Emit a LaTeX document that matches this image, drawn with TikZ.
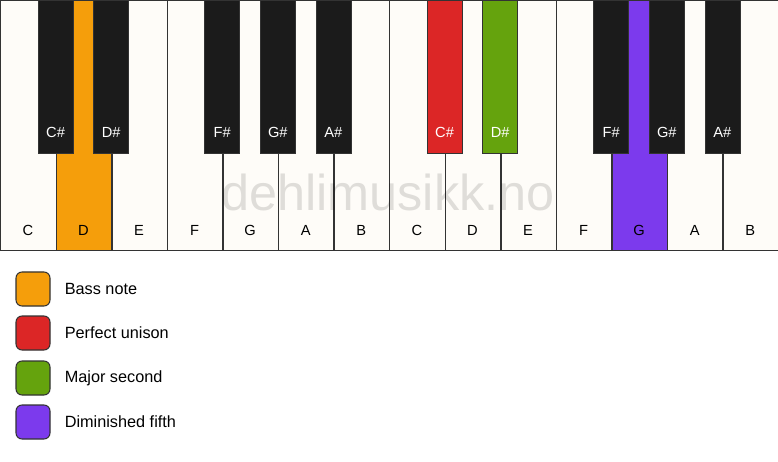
\documentclass[tikz,border=0pt]{standalone}
\usepackage{fontspec}
\setmainfont{Liberation Sans}
\usepackage{tikz}
\usetikzlibrary{positioning}

\definecolor{ivory}{HTML}{FEFCF8}
\definecolor{keyblack}{HTML}{1B1B1B}
\definecolor{edge}{HTML}{333333}
\definecolor{bass}{HTML}{F59E0B}
\definecolor{unison}{HTML}{DC2626}
\definecolor{second}{HTML}{65A30D}
\definecolor{fifth}{HTML}{7C3AED}

\tikzset{
    whitekey/.style={draw=edge, line width=1.1pt, fill=ivory, minimum width=41.68pt,
        minimum height=187.5pt, anchor=north west, inner sep=0pt},
    blackkey/.style={draw=edge, line width=0.6pt, fill=keyblack, minimum width=26.25pt,
        minimum height=114.75pt, anchor=north, inner sep=0pt},
    keylabel/.style={font=\fontsize{11}{13}\selectfont, inner sep=0pt},
    swatch/.style={draw=edge, line width=0.8pt, rounded corners=4.5pt,
        minimum size=25.5pt, inner sep=0pt},
    legendtext/.style={font=\fontsize{12.2}{14}\selectfont, anchor=west, inner sep=0pt}
}

\begin{document}
\begin{tikzpicture}[x=0.75pt,y=0.75pt]
    \useasboundingbox[fill=white] (0,0) rectangle (778,461);
    % white keys
    \foreach \n/\c [count=\i from 0] in {C/ivory,D/bass,E/ivory,F/ivory,G/ivory,A/ivory,B/ivory,
        C/ivory,D/ivory,E/ivory,F/ivory,G/fifth,A/ivory,B/ivory} {
        \node[whitekey, fill=\c] (w\i) at (\i*55.57,461) {};
        \node[keylabel] (wl\i) at (\i*55.57+27.8,231) {\n};
    }
    % watermark
    \node[font=\fontsize{37.8}{44}\selectfont, text=black, opacity=0.12] (mark) at (388,269) {dehlimusikk.no};
    % black keys
    \foreach \k/\n/\c [count=\j] in {1/C\#/keyblack,2/D\#/keyblack,4/F\#/keyblack,5/G\#/keyblack,
        6/A\#/keyblack,8/C\#/unison,9/D\#/second,11/F\#/keyblack,12/G\#/keyblack,13/A\#/keyblack} {
        \node[blackkey, fill=\c] (b\j) at (\k*55.57,461) {};
        \node[keylabel, text=white] (bl\j) at (\k*55.57,329) {\n};
    }
    % legend
    \node[swatch, fill=bass] (s1) at (33,172) {};
    \node[legendtext, right=10.5pt of s1.east, anchor=west] (t1) {Bass note};
    \node[swatch, fill=unison] (s2) at (33,128) {};
    \node[legendtext, right=10.5pt of s2.east, anchor=west] (t2) {Perfect unison};
    \node[swatch, fill=second] (s3) at (33,83) {};
    \node[legendtext, right=10.5pt of s3.east, anchor=west] (t3) {Major second};
    \node[swatch, fill=fifth] (s4) at (33,39) {};
    \node[legendtext, right=10.5pt of s4.east, anchor=west] (t4) {Diminished fifth};
\end{tikzpicture}
\end{document}
